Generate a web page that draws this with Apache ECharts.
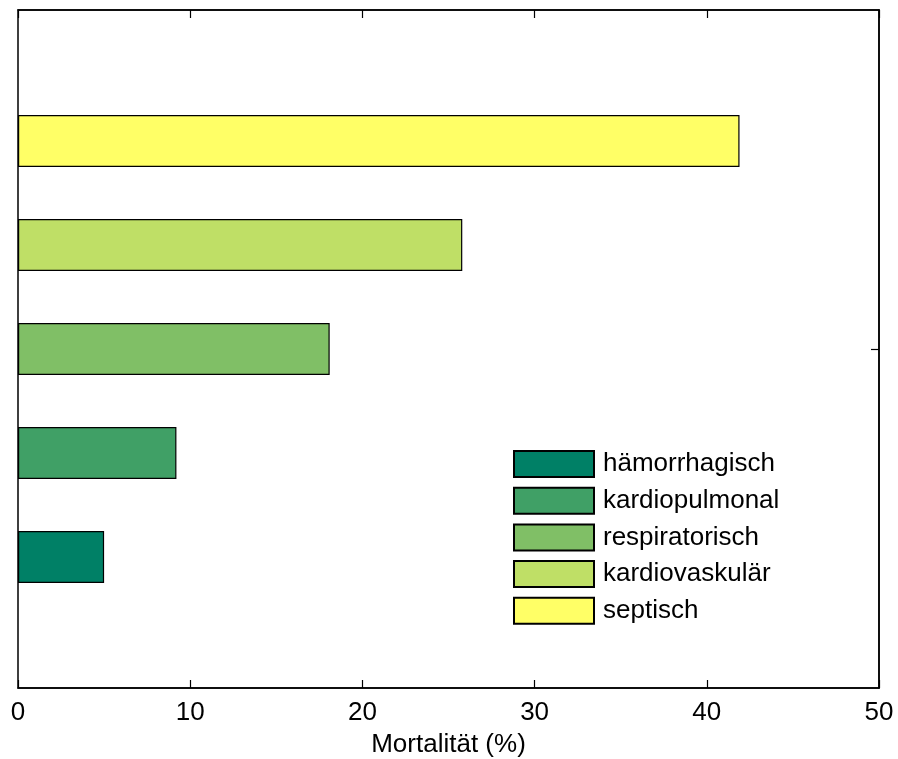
<!DOCTYPE html>
<html>
<head>
<meta charset="utf-8">
<script src="https://cdn.jsdelivr.net/npm/echarts@6/dist/echarts.min.js"></script>
<style>
  html, body { margin: 0; padding: 0; background: #fff; }
  #chart { width: 898px; height: 759px; }
</style>
</head>
<body>
<div id="chart"></div>
<script>
// Mortalität nach Schockform
const seriesNames = ['hämorrhagisch', 'kardiopulmonal', 'respiratorisch', 'kardiovaskulär', 'septisch'];
const mortality = [5.0, 9.2, 18.1, 25.8, 41.9];
const seriesColors = ['#008066', '#40a066', '#80bf66', '#bfdf66', '#ffff66'];
const xTicks = [0, 10, 20, 30, 40, 50];
const category = ['1'];

const FONT = 'Liberation Sans, Arial, sans-serif';
const FS = 26;

const chart = echarts.init(document.getElementById('chart'), null, { renderer: 'canvas' });

// bars in one group: the first entry is drawn at the top, so add them from last to first
const series = seriesNames.map((name, i) => ({
  name: name,
  type: 'bar',
  data: [mortality[i]],
  barWidth: 52,
  barGap: '100%',
  itemStyle: { color: seriesColors[i], borderColor: '#000', borderWidth: 1.2 },
  emphasis: { disabled: true },
  animation: false
})).reverse();

chart.setOption({
  animation: false,
  textStyle: { fontFamily: FONT },
  grid: {
    left: 18, right: 19, top: 10, bottom: 71,
    containLabel: false,
    outerBoundsMode: 'none',
    show: true, borderColor: '#000', borderWidth: 1.5, backgroundColor: '#fff'
  },
  legend: {
    orient: 'vertical',
    left: 513, top: 450,
    itemWidth: 80, itemHeight: 26, itemGap: 8.7,
    icon: 'rect',
    data: seriesNames,
    textStyle: { fontSize: FS, fontFamily: FONT, color: '#000', padding: [0, 0, 0, 4] },
    selectedMode: false,
    padding: 0
  },
  xAxis: [{
    type: 'value', min: xTicks[0], max: xTicks[xTicks.length - 1], interval: 10,
    position: 'bottom',
    name: 'Mortalität (%)', nameLocation: 'middle', nameGap: 44,
    nameTextStyle: { fontSize: FS, color: '#000', fontFamily: FONT },
    axisLine: { show: true, lineStyle: { color: '#000', width: 1.5 } },
    axisTick: { show: true, inside: true, length: 8, lineStyle: { color: '#000', width: 1.2 } },
    axisLabel: { fontSize: FS, color: '#000', margin: 12, fontFamily: FONT },
    splitLine: { show: false }
  }, {
    type: 'value', min: xTicks[0], max: xTicks[xTicks.length - 1], interval: 10,
    position: 'top',
    axisLine: { show: true, lineStyle: { color: '#000', width: 1.5 } },
    axisTick: { show: true, inside: true, length: 8, lineStyle: { color: '#000', width: 1.2 } },
    axisLabel: { show: false },
    splitLine: { show: false }
  }],
  yAxis: [{
    type: 'category', data: category, position: 'right',
    axisLine: { show: true, onZero: false, lineStyle: { color: '#000', width: 1.5 } },
    axisTick: { show: true, inside: true, alignWithLabel: true, length: 8, lineStyle: { color: '#000', width: 1.2 } },
    axisLabel: { show: false }
  }],
  series: series
});
</script>
</body>
</html>
